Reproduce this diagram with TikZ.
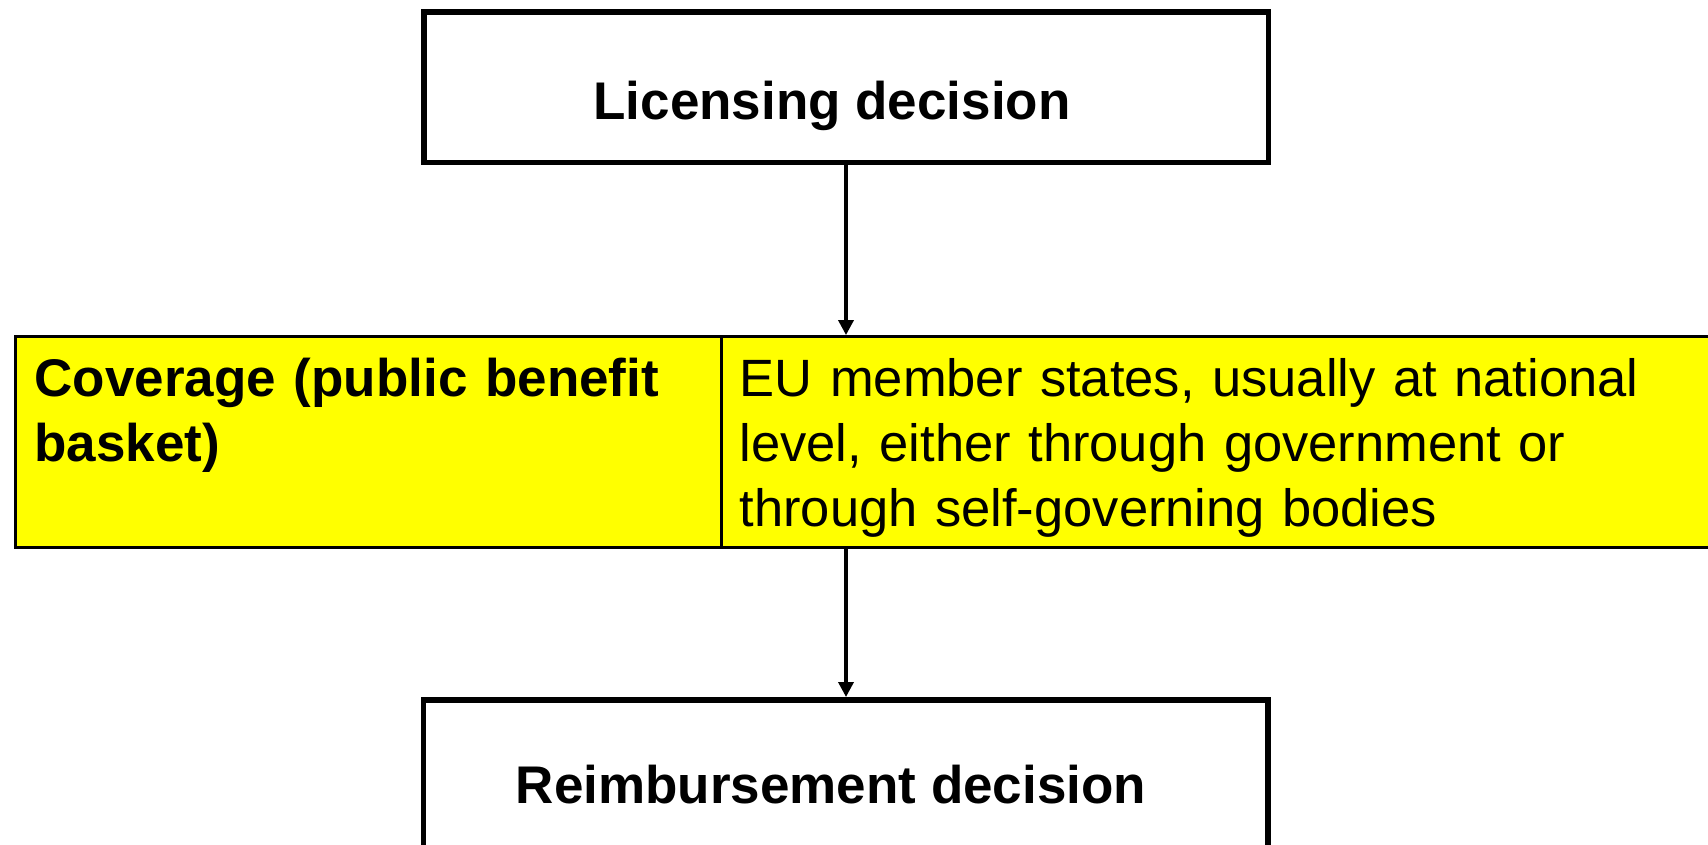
\documentclass[tikz,border=0pt]{standalone}
\usepackage{fontspec}
\setmainfont{Liberation Sans}
\usetikzlibrary{arrows.meta}
\definecolor{boxyellow}{RGB}{255,255,0}
\tikzset{
  bigbox/.style={draw=black, line width=5.5pt, fill=white, minimum width=844.5pt, minimum height=150.3pt, inner sep=0pt},
  cell/.style={draw=black, line width=3.3pt, fill=boxyellow, minimum height=210.8pt, inner sep=0pt},
  lbl/.style={inner sep=0pt, font=\fontsize{52.5}{65}\selectfont, align=left, anchor=base west},
  title/.style={inner sep=0pt, font=\fontsize{53}{65}\selectfont\bfseries, anchor=base},
  arr/.style={line width=3.5pt, -{Triangle[length=15pt,width=15pt]}}
}
\begin{document}
\begin{tikzpicture}[x=1pt, y=-1pt]
\useasboundingbox (0,0) rectangle (1708,844);
\clip (0,0) rectangle (1708,844);
\fill[white] (0,0) rectangle (1708,844);
% boxes
\node[bigbox] (lic) at (846,87.2) {};
\node[title] (lictext) at (832,119) {Licensing decision};
\node[cell, minimum width=705.8pt] (cov) at (368.6,442.1) {};
\node[cell, minimum width=1008.5pt] (eu) at (1225.75,442.1) {};
\node[lbl, font=\fontsize{53}{65}\selectfont\bfseries, text width=680pt] (covtext) at (34.4,396.5)
  {Coverage (public benefit\\basket)};
\node[lbl, text width=960pt] (eutext) at (739.5,396.7)
  {EU member states, usually at national\\level, either through government or\\through self-governing bodies};
\node[bigbox] (reim) at (845.6,774.9) {};
\node[title] (reimtext) at (831,803) {Reimbursement decision};
% connectors
\draw[arr] (lic.south) -- (lic.south |- eu.north);
\draw[arr] (lic.south |- eu.south) -- (lic.south |- reim.north);
\end{tikzpicture}
\end{document}
